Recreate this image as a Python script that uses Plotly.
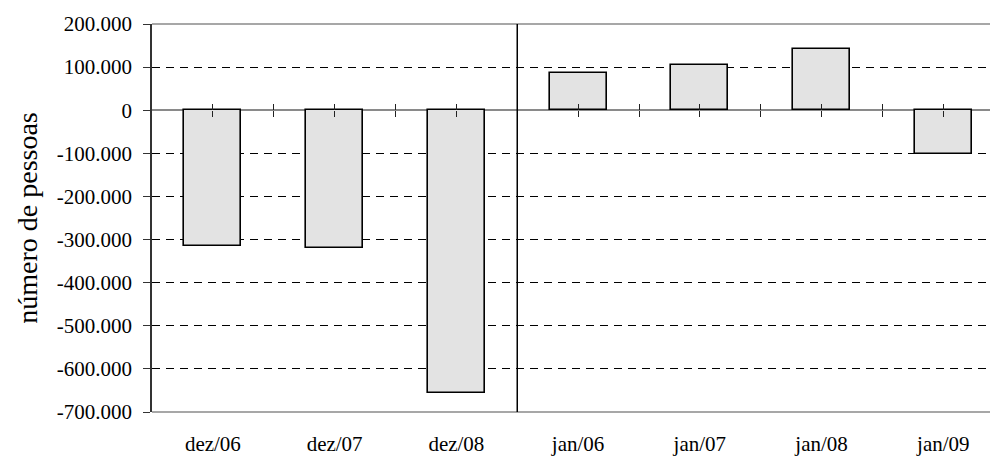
import plotly.graph_objects as go

# Net job creation (saldo de empregos) — December vs January months
categories = ["dez/06", "dez/07", "dez/08", "jan/06", "jan/07", "jan/08", "jan/09"]
saldo = [-316000, -319400, -654900, 87500, 103900, 142900, -101700]
n_dez = 3  # first group: December months

y_ticks = [200000, 100000, 0, -100000, -200000, -300000, -400000, -500000, -600000, -700000]
y_ticktext = ["200.000", "100.000", "0", "-100.000", "-200.000", "-300.000",
              "-400.000", "-500.000", "-600.000", "-700.000"]

FONT = "Liberation Serif"
x_pos = list(range(len(categories)))
x_range = [-0.5, 6.383]
y_range = [-700000, 200000]
zero_frac = (0 - y_range[0]) / (y_range[1] - y_range[0])

# tick marks on the zero line: category centres and category boundaries
zero_ticks = sorted(x_pos + [i + 0.5 for i in x_pos[:-1]])

fig = go.Figure()
fig.add_trace(go.Bar(
    x=x_pos, y=saldo, width=0.47,
    marker=dict(color="#e3e3e3", line=dict(color="#000000", width=1.6)),
    showlegend=False, hoverinfo="skip",
))
# empty helper traces so the zero-line tick axes are rendered
for ax in ("x2", "x3"):
    fig.add_trace(go.Scatter(x=[0], y=[0], xaxis=ax, mode="none",
                             showlegend=False, hoverinfo="skip"))

# plot-area top and bottom border
for yv in (0, 1):
    fig.add_shape(type="line", xref="paper", yref="paper", x0=0, x1=1, y0=yv, y1=yv,
                  line=dict(color="#8a8a8a", width=1.5), layer="below")
# separator between December and January groups
fig.add_shape(type="line", xref="x", yref="paper", x0=n_dez - 0.5, x1=n_dez - 0.5,
              y0=0, y1=1, line=dict(color="#000000", width=1.5), layer="above")

zero_axis = dict(overlaying="x", anchor="free", position=zero_frac, range=x_range,
                 tickmode="array", tickvals=zero_ticks, ticklen=6, tickwidth=1,
                 tickcolor="#222222", showticklabels=False, showgrid=False,
                 showline=False, zeroline=False, automargin=False)

fig.update_layout(
    template="none",
    width=990, height=457,
    margin=dict(l=152, r=0, t=24, b=45, autoexpand=False),
    paper_bgcolor="white", plot_bgcolor="white",
    font=dict(family=FONT, size=21, color="#000000"),
    bargap=0,
    xaxis=dict(
        range=x_range, tickmode="array", tickvals=x_pos, ticktext=categories,
        ticks="", showgrid=False, showline=False, zeroline=False, automargin=False,
        ticklabelstandoff=17, tickfont=dict(family=FONT, size=21, color="#000000"),
    ),
    xaxis2=dict(zero_axis, ticks="outside"),
    xaxis3=dict(zero_axis, ticks="inside"),
    yaxis=dict(
        range=y_range, tickmode="array", tickvals=y_ticks, ticktext=y_ticktext,
        ticks="outside", ticklen=7, tickwidth=1.2, tickcolor="#333333",
        showline=True, linecolor="#333333", linewidth=1.5, automargin=False,
        showgrid=True, gridcolor="#000000", gridwidth=1, griddash="8px,6px",
        zeroline=True, zerolinecolor="#8a8a8a", zerolinewidth=1.5,
        ticklabelstandoff=7, tickfont=dict(family=FONT, size=21, color="#000000"),
        title=dict(text="número de pessoas", standoff=11,
                   font=dict(family=FONT, size=28, color="#000000")),
    ),
)

fig.write_html("out.html")
